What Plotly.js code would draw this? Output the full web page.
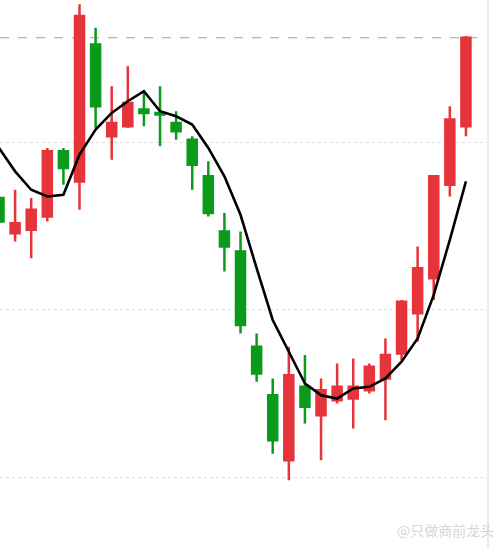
<!DOCTYPE html>
<html>
<head>
<meta charset="utf-8">
<script src="https://cdn.plot.ly/plotly-3.0.1.min.js"></script>
<style>html,body{margin:0;padding:0;background:#fff;}#chart{width:500px;height:549px;}</style>
</head>
<body>
<div id="chart"></div>
<script>
const days = [1,2,3,4,5,6,7,8,9,10,11,12,13,14,15,16,17,18,19,20,21,22,23,24,25,26,27,28,29,30];
const open  = [9.67,9.46,9.48,9.56,9.95,9.77,10.59,10.04,10.10,10.20,10.18,10.12,10.02,9.80,9.47,9.35,8.78,8.49,8.10,8.54,8.37,8.46,8.47,8.52,8.59,8.74,8.98,9.19,9.75,10.10];
const high  = [9.68,9.72,9.67,9.97,9.97,10.83,10.69,10.34,10.46,10.31,10.34,10.19,10.04,9.89,9.58,9.47,8.86,8.59,8.78,8.73,8.59,8.68,8.71,8.68,8.83,9.06,9.38,9.80,10.22,10.64];
const low   = [9.52,9.41,9.31,9.53,9.75,9.60,10.09,9.90,10.09,10.10,9.98,10.02,9.72,9.56,9.23,8.86,8.57,8.14,7.98,8.32,8.10,8.44,8.29,8.50,8.34,8.70,8.81,9.06,9.68,10.04];
const close = [9.53,9.52,9.60,9.95,9.85,10.76,10.22,10.12,10.24,10.18,10.17,10.07,9.87,9.58,9.38,8.91,8.62,8.22,8.61,8.42,8.52,8.54,8.54,8.66,8.73,9.05,9.25,9.80,10.14,10.63];
const ma    = [9.97,9.83,9.72,9.68,9.69,9.93,10.08,10.18,10.25,10.31,10.19,10.16,10.11,9.97,9.80,9.57,9.25,8.94,8.75,8.56,8.49,8.47,8.53,8.54,8.59,8.69,8.83,9.09,9.42,9.77];
const gridLevels = [8, 9, 10];
const watermark = "@只做商前龙头";

const RED = '#e5343a', GREEN = '#0c9a1c';
const lastClose = close[close.length - 1];

const traces = [
  {
    type: 'candlestick', x: days, open: open, high: high, low: low, close: close,
    increasing: {line: {color: RED, width: 2.5}, fillcolor: RED},
    decreasing: {line: {color: GREEN, width: 2.5}, fillcolor: GREEN},
    whiskerwidth: 0, hoverinfo: 'skip', showlegend: false
  },
  {
    type: 'scatter', mode: 'lines', x: days, y: ma,
    line: {color: '#000', width: 2.6}, hoverinfo: 'skip', showlegend: false
  }
];

const layout = {
  width: 500, height: 549,
  margin: {l: 0, r: 12, t: 0, b: 0},
  paper_bgcolor: '#fff', plot_bgcolor: '#fff',
  showlegend: false,
  boxgap: 0.2,
  xaxis: {range: [1.062, 31.37], showgrid: false, zeroline: false, showticklabels: false,
          ticks: '', showline: false, rangeslider: {visible: false}, fixedrange: true},
  yaxis: {range: [7.569, 10.856], tickmode: 'array', tickvals: gridLevels, showticklabels: false,
          ticks: '', showgrid: true, gridcolor: '#dedede', griddash: 'dot', gridwidth: 1,
          zeroline: false, showline: false, fixedrange: true},
  shapes: [
    {type: 'line', xref: 'paper', yref: 'y', x0: 0, x1: 0.995, y0: lastClose, y1: lastClose,
     line: {color: '#a4a482', width: 1.2, dash: 'dash'}, layer: 'below'},
    {type: 'line', xref: 'paper', yref: 'paper', x0: 1, x1: 1, y0: 0, y1: 1,
     line: {color: '#ececec', width: 2}}
  ],
  annotations: [
    {xref: 'paper', yref: 'paper', x: 1.0, y: 0.012, xanchor: 'right', yanchor: 'bottom',
     xshift: 8, text: watermark, showarrow: false,
     font: {family: 'Noto Sans CJK SC', size: 14, color: '#d6d6d6'}}
  ]
};

Plotly.newPlot('chart', traces, layout, {staticPlot: true, displayModeBar: false});
</script>
</body>
</html>
